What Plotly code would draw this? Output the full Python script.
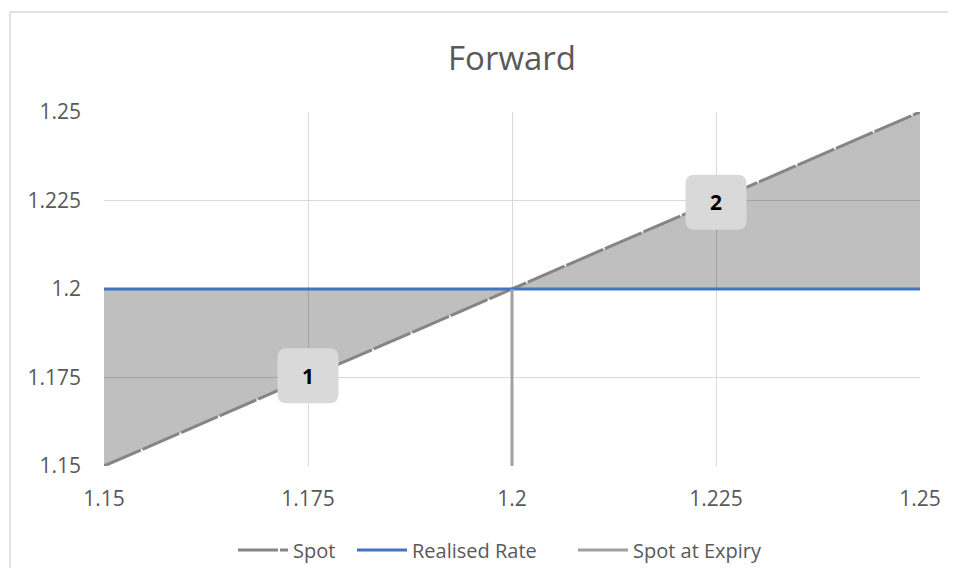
import plotly.graph_objects as go

# Data
spot_x = [1.15, 1.25]
spot_y = [1.15, 1.25]
realised_x = [1.15, 1.25]
realised_y = [1.2, 1.2]
expiry_x = [1.2, 1.2]
expiry_y = [1.15, 1.2]
fill1_x = [1.15, 1.15, 1.2, 1.15]
fill1_y = [1.15, 1.2, 1.2, 1.15]
fill2_x = [1.2, 1.25, 1.25, 1.2]
fill2_y = [1.2, 1.25, 1.2, 1.2]
label_text = ["1", "2"]
label_x = [1.175, 1.225]
label_y = [1.1755, 1.2245]
tick_vals = [1.15, 1.175, 1.2, 1.225, 1.25]
tick_text = ["1.15", "1.175", "1.2", "1.225", "1.25"]

FONT = "'Open Sans', sans-serif"
TXT = "#595959"

# page offset of the figure and geometry (page pixels) of the plot area
OFF = 8
FIG_W, FIG_H = 940, 560
PLOT_L, PLOT_T = 104, 112
PLOT_W, PLOT_H = 816, 354
XR, YR = 0.1, 0.1
px_x = XR / PLOT_W
px_y = YR / PLOT_H


def paper_x(px):
    return (px - PLOT_L) / PLOT_W


def paper_y(py):
    return (PLOT_T + PLOT_H - py) / PLOT_H


fig = go.Figure()
for fx, fy in [(fill1_x, fill1_y), (fill2_x, fill2_y)]:
    fig.add_trace(go.Scatter(x=fx, y=fy, mode="lines", fill="toself",
                             fillcolor="rgba(0,0,0,0.25)", line=dict(width=0),
                             showlegend=False, hoverinfo="skip"))
fig.add_trace(go.Scatter(x=spot_x, y=spot_y, mode="lines", name="Spot", legend="legend",
                         line=dict(color="#858585", width=3, dash="40px,2px")))
fig.add_trace(go.Scatter(x=realised_x, y=realised_y, mode="lines", name="Realised Rate",
                         legend="legend2", line=dict(color="#4472c4", width=3)))
fig.add_trace(go.Scatter(x=expiry_x, y=expiry_y, mode="lines", name="Spot at Expiry",
                         legend="legend3", line=dict(color="#a0a0a0", width=3)))


def rounded_rect(cx, cy, w, h, r):
    hw, hh = w / 2 * px_x, h / 2 * px_y
    rx, ry = r * px_x, r * px_y
    x0, x1, y0, y1 = cx - hw, cx + hw, cy - hh, cy + hh
    return (f"M {x0+rx},{y1} L {x1-rx},{y1} Q {x1},{y1} {x1},{y1-ry} "
            f"L {x1},{y0+ry} Q {x1},{y0} {x1-rx},{y0} L {x0+rx},{y0} "
            f"Q {x0},{y0} {x0},{y0+ry} L {x0},{y1-ry} Q {x0},{y1} {x0+rx},{y1} Z")


shapes = []
for t, x, y in zip(label_text, label_x, label_y):
    shapes.append(dict(type="path", xref="x", yref="y",
                       path=rounded_rect(x, y, 61, 55, 9),
                       fillcolor="#d9d9d9", line=dict(width=0), layer="above"))
    fig.add_annotation(x=x, y=y, xref="x", yref="y", text="<b>%s</b>" % t,
                       showarrow=False,
                       font=dict(family=FONT, size=21, color="#000000"))

# chart-area border (left and top edges visible in the frame)
shapes.append(dict(type="line", xref="paper", yref="paper",
                   x0=paper_x(10), x1=paper_x(10), y0=paper_y(640), y1=paper_y(12),
                   line=dict(color="#d9d9d9", width=1.5), layer="below"))
shapes.append(dict(type="line", xref="paper", yref="paper",
                   x0=paper_x(10), x1=paper_x(1000), y0=paper_y(12), y1=paper_y(12),
                   line=dict(color="#d9d9d9", width=1.5), layer="below"))

axis_common = dict(range=[1.15, 1.25], tickvals=tick_vals, ticktext=tick_text,
                   showgrid=True, gridcolor="#d9d9d9", gridwidth=1,
                   zeroline=False, showline=False, ticks="", automargin=False,
                   tickfont=dict(family=FONT, size=21, color=TXT))

leg_common = dict(orientation="h", xanchor="left", yanchor="middle", y=paper_y(550),
                  font=dict(family=FONT, size=20, color=TXT), itemwidth=50,
                  bgcolor="rgba(0,0,0,0)", borderwidth=0)

fig.update_layout(
    width=FIG_W, height=FIG_H,
    margin=dict(l=PLOT_L - OFF, t=PLOT_T - OFF,
                r=FIG_W + OFF - (PLOT_L + PLOT_W),
                b=FIG_H + OFF - (PLOT_T + PLOT_H), autoexpand=False),
    paper_bgcolor="white", plot_bgcolor="white",
    title=dict(text="Forward", x=(512 - OFF) / FIG_W, xanchor="center",
               y=1 - (58 - OFF) / FIG_H, yanchor="middle", xref="container",
               font=dict(family=FONT, size=33, color=TXT)),
    xaxis=dict(**axis_common, ticklabelstandoff=18),
    yaxis=dict(**axis_common, ticklabelstandoff=22),
    legend=dict(**leg_common, x=paper_x(233)),
    legend2=dict(**leg_common, x=paper_x(352)),
    legend3=dict(**leg_common, x=paper_x(573)),
    shapes=shapes,
)

fig.write_html("out.html")
